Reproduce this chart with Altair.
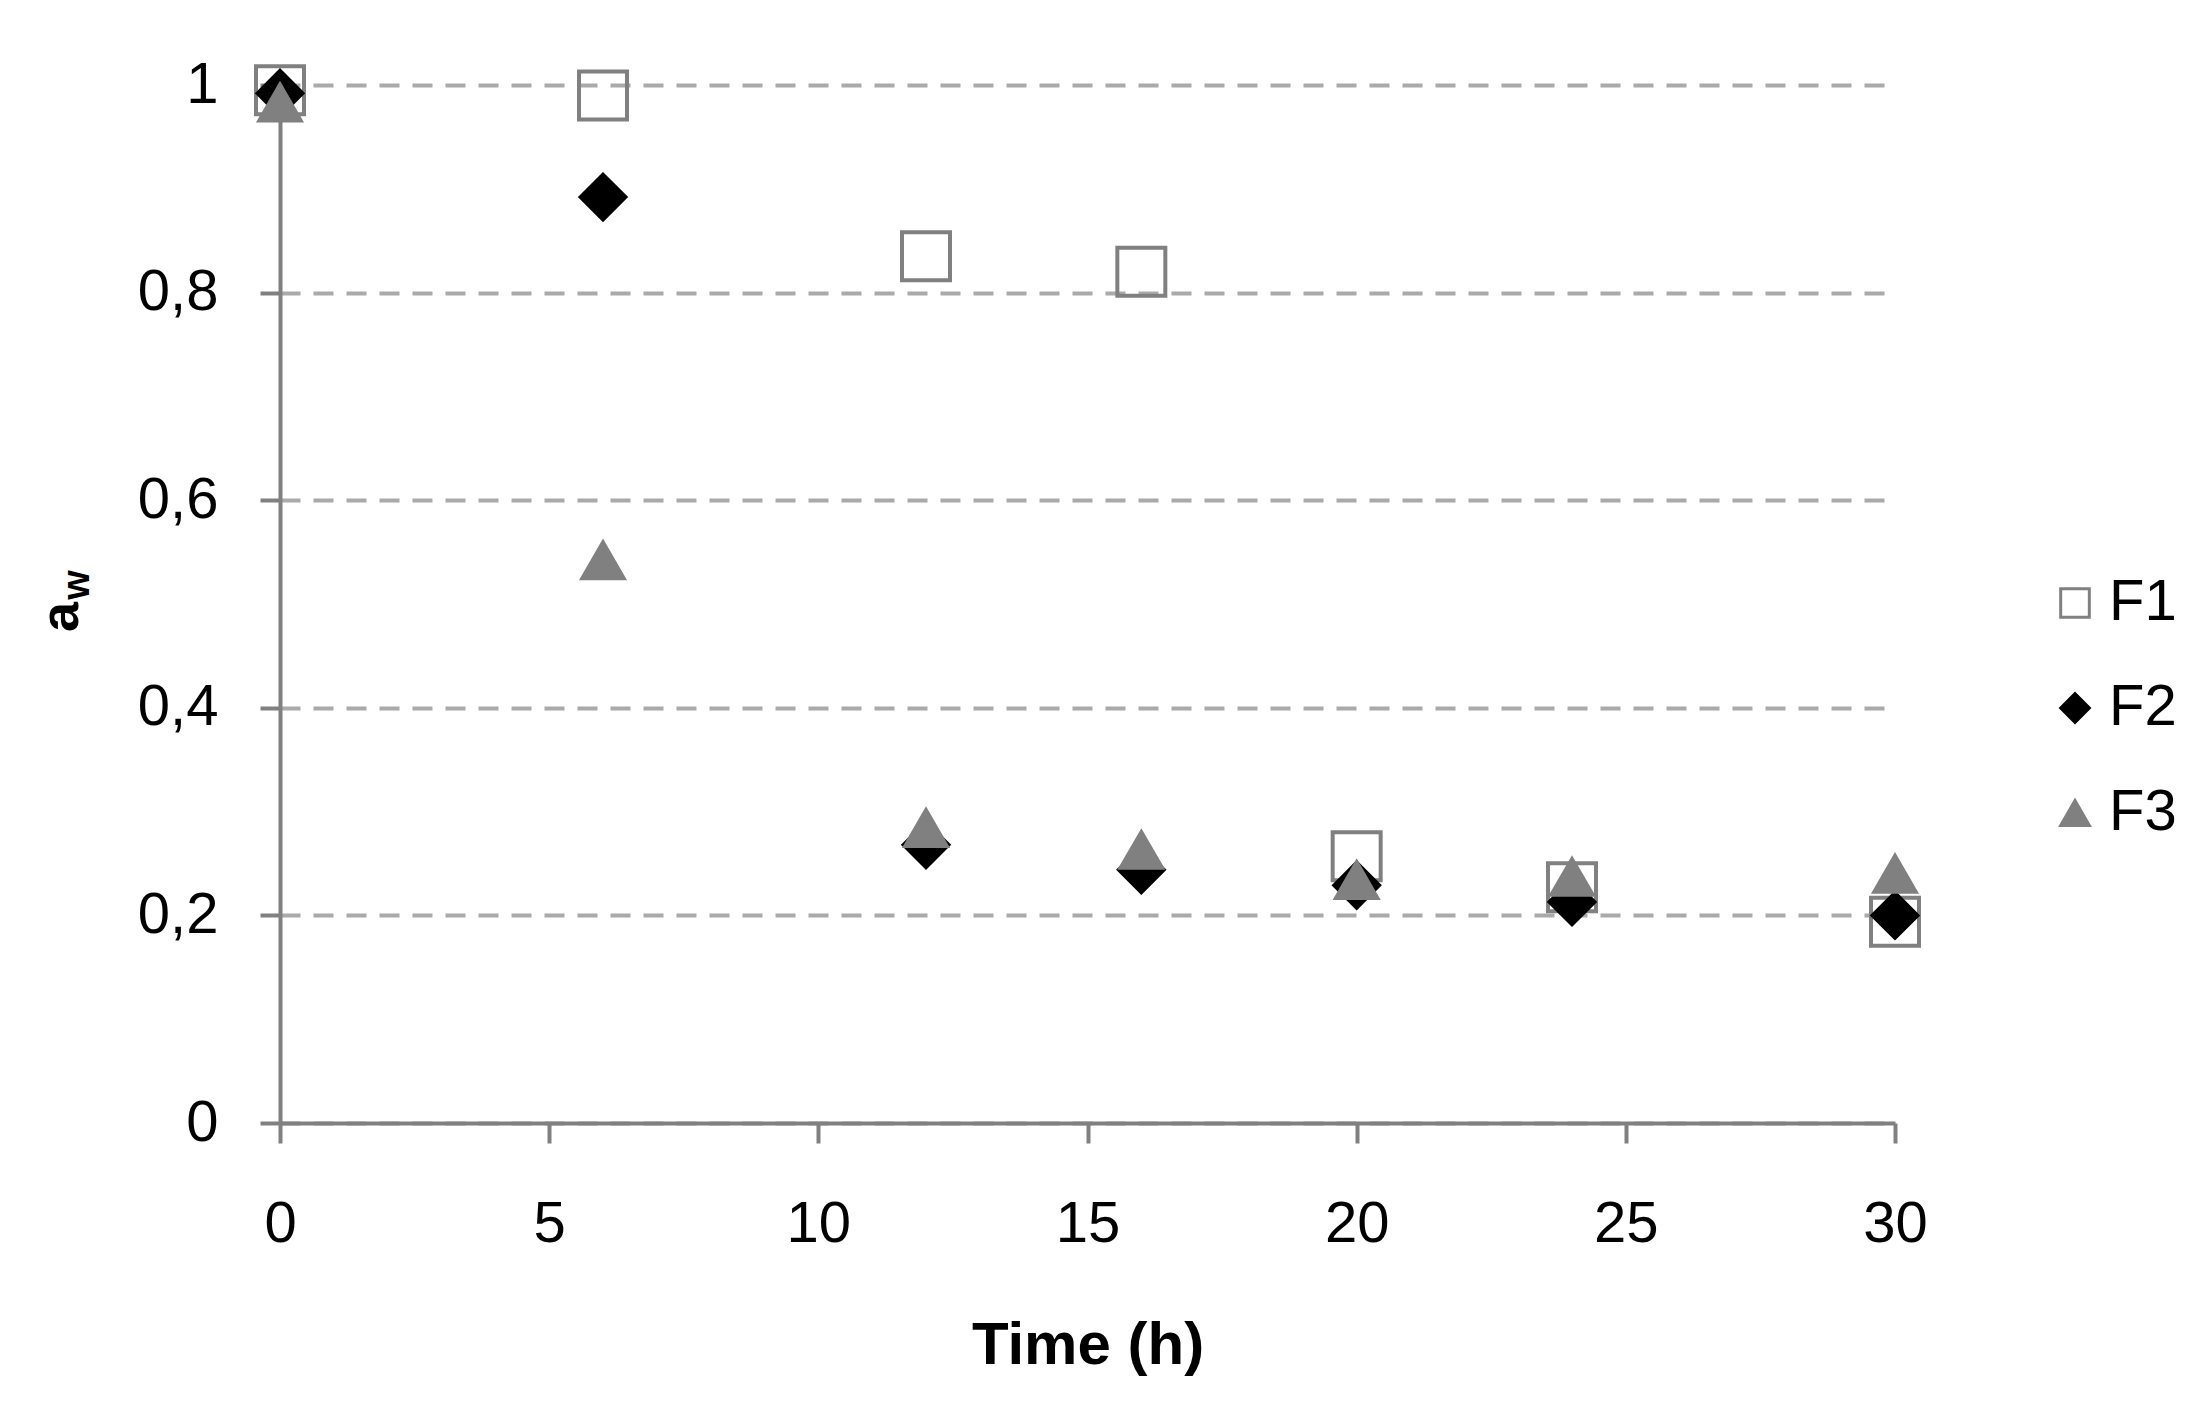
import altair as alt
import pandas as pd

# Data
time_h = [0, 6, 12, 16, 20, 24, 30]
f1 = [0.995, 0.99, 0.835, 0.82, 0.257, 0.227, 0.194]
f2 = [0.992, 0.892, 0.268, 0.244, 0.229, 0.213, 0.2]
f3 = [0.983, 0.542, 0.284, 0.263, 0.234, 0.237, 0.24]
series_names = ["F1", "F2", "F3"]
x_ticks = [0, 5, 10, 15, 20, 25, 30]
y_ticks = [0, 0.2, 0.4, 0.6, 0.8, 1]

rows = []
for name, vals in zip(series_names, [f1, f2, f3]):
    for t, v in zip(time_h, vals):
        rows.append({"time": t, "value": v, "series": name, "sizekey": name})
df = pd.DataFrame(rows)

FONT = "Liberation Sans"
AXIS_GRAY = "#808080"


def make_legend():
    return alt.Legend(
        title=None,
        orient="none",
        legendX=1766,
        legendY=489,
        labelFont=FONT,
        labelFontSize=58,
        labelColor="black",
        labelOffset=5,
        rowPadding=47,
        symbolSize=820,
        symbolStrokeWidth=3,
        padding=0,
    )


points = alt.Chart(df).mark_point(filled=True, opacity=1, strokeWidth=4).encode(
    x=alt.X(
        "time:Q",
        scale=alt.Scale(domain=[0, 30], nice=False, zero=True),
        axis=alt.Axis(
            values=x_ticks,
            title="Time (h)",
            grid=False,
            tickSize=20,
            tickWidth=4,
            tickColor=AXIS_GRAY,
            domainColor=AXIS_GRAY,
            domainWidth=4,
            labelFontSize=58,
            labelPadding=52,
            labelColor="black",
            labelFont=FONT,
            labelFlush=False,
            titleFont=FONT,
            titleFontSize=60,
            titleFontWeight="bold",
            titleColor="black",
            titleBaseline="alphabetic",
            titleY=240,
        ),
    ),
    y=alt.Y(
        "value:Q",
        scale=alt.Scale(domain=[0, 1], nice=False),
        axis=alt.Axis(
            values=y_ticks,
            title=None,
            grid=True,
            gridDash=[20, 13],
            gridColor="#aaaaaa",
            gridWidth=4,
            tickSize=20,
            tickWidth=4,
            tickColor=AXIS_GRAY,
            domainColor=AXIS_GRAY,
            domainWidth=4,
            labelFontSize=58,
            labelPadding=42,
            labelColor="black",
            labelFont=FONT,
            labelFlush=False,
            labelExpr="replace(format(datum.value, '~g'), '.', ',')",
        ),
    ),
    shape=alt.Shape(
        "series:N",
        scale=alt.Scale(domain=series_names, range=["square", "diamond", "triangle-up"]),
        legend=make_legend(),
    ),
    fill=alt.Fill(
        "series:N",
        scale=alt.Scale(domain=series_names, range=["transparent", "#000000", "#808080"]),
        legend=make_legend(),
    ),
    stroke=alt.Stroke(
        "series:N",
        scale=alt.Scale(domain=series_names, range=["#808080", "#000000", "#808080"]),
        legend=make_legend(),
    ),
    # size scale uses a data-derived domain so its (disabled) legend is not merged
    size=alt.Size(
        "sizekey:N",
        scale=alt.Scale(range=[2304, 1700, 1900]),
        legend=None,
    ),
    order=alt.Order("series:N"),
)

title_a = alt.Chart(pd.DataFrame({"t": ["a"]})).mark_text(
    angle=270, font=FONT, fontSize=54, fontWeight="bold", color="black",
    align="center", baseline="middle",
).encode(x=alt.value(-218), y=alt.value(532), text="t:N")

title_w = alt.Chart(pd.DataFrame({"t": ["w"]})).mark_text(
    angle=270, font=FONT, fontSize=38, fontWeight="bold", color="black",
    align="center", baseline="middle",
).encode(x=alt.value(-202), y=alt.value(500), text="t:N")

chart = alt.layer(points, title_a, title_w).properties(
    width=1615,
    height=1038,
    autosize=alt.AutoSizeParams(type="none"),
    padding={"left": 272, "top": 77, "right": 290, "bottom": 270},
    background="white",
).configure_view(
    stroke=None
)

chart.save("out.html", embed_options={"renderer": "svg", "actions": False})
